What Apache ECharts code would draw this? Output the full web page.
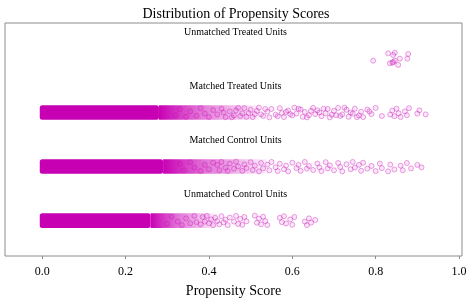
<!DOCTYPE html>
<html><head><meta charset="utf-8">
<script src="https://cdn.jsdelivr.net/npm/echarts@6/dist/echarts.min.js"></script>
<style>html,body{margin:0;padding:0;background:#fff}#c{width:472px;height:303px}</style>
</head><body><div id="c"></div>
<script>
const rows = ['Unmatched Treated Units','Matched Treated Units','Matched Control Units','Unmatched Control Units'];
const xTicks = [0, 0.2, 0.4, 0.6, 0.8, 1.0];
// dense part of each strip: [start, end of solid, end of thinning]
const bandStart = [null, 0.0, 0.0, 0.0];
const solidEnd  = [null, 0.28, 0.29, 0.26];
const fadeEnd   = [null, 0.52, 0.54, 0.42];
// sparse points: [score, vertical jitter]
const unmatchedTreated = [[0.830,-0.096],[0.846,-0.107],[0.842,-0.065],[0.878,-0.083],[0.876,0.004],[0.858,0.004],[0.794,0.041],[0.834,0.089],[0.842,0.065],[0.846,0.041],[0.854,0.120],[0.840,0.078]];
const matchedTreated = [[0.32,0.05],[0.33,-0.06],[0.345,0.08],[0.355,-0.02],[0.37,0.06],[0.38,-0.08],[0.39,0.02],[0.40,0.085],[0.41,-0.045],[0.42,0.035],[0.43,-0.07],[0.435,0],[0.44,0.085],[0.45,-0.02],[0.455,0.09],[0.46,0.055],[0.465,-0.04],[0.47,-0.085],[0.475,0.065],[0.48,0.015],[0.485,-0.08],[0.49,0.08],[0.495,0.01],[0.50,-0.05],[0.505,0.085],[0.51,0.03],[0.515,-0.03],[0.52,-0.09],[0.525,0.035],[0.53,0.065],[0.535,-0.065],[0.54,-0.015],[0.545,0.09],[0.55,-0.065],[0.56,0.04],[0.565,0.07],[0.57,-0.08],[0.575,0.01],[0.58,0.085],[0.585,-0.01],[0.59,-0.035],[0.595,0.03],[0.60,0.055],[0.605,-0.09],[0.61,0.02],[0.615,-0.07],[0.62,-0.055],[0.625,0.08],[0.63,-0.01],[0.635,0.09],[0.64,0.05],[0.645,-0.03],[0.65,-0.085],[0.655,0.03],[0.66,-0.04],[0.665,0],[0.67,0.07],[0.675,-0.07],[0.68,0.015],[0.685,-0.065],[0.69,0.09],[0.695,0.04],[0.70,-0.03],[0.705,0.05],[0.71,-0.085],[0.715,0.065],[0.72,0.035],[0.725,-0.09],[0.73,-0.05],[0.735,0.08],[0.74,0],[0.745,0.02],[0.75,-0.07],[0.755,0.085],[0.76,0.055],[0.765,-0.015],[0.77,0.085],[0.78,-0.055],[0.785,-0.02],[0.79,0.03],[0.80,-0.085],[0.815,0.065],[0.835,0.04],[0.84,-0.035],[0.845,0.07],[0.85,-0.07],[0.855,0.015],[0.86,0.085],[0.87,-0.02],[0.875,0.05],[0.88,-0.08],[0.90,0.02],[0.905,-0.04],[0.92,0.035]];
const matchedControl = [[0.33,-0.05],[0.34,0.07],[0.355,-0.08],[0.365,0.02],[0.38,0.085],[0.39,-0.03],[0.40,0.05],[0.41,-0.07],[0.42,-0.03],[0.425,0.07],[0.43,-0.085],[0.44,0.02],[0.445,0.085],[0.45,-0.055],[0.46,0.04],[0.465,-0.09],[0.47,0],[0.48,0.08],[0.485,-0.04],[0.49,0.03],[0.50,-0.08],[0.505,0.065],[0.51,-0.015],[0.52,0.09],[0.525,-0.065],[0.53,0.035],[0.54,-0.035],[0.545,0.07],[0.55,-0.085],[0.56,0.015],[0.565,0.085],[0.57,-0.05],[0.58,0.05],[0.585,-0.015],[0.59,0.09],[0.60,-0.07],[0.61,0.03],[0.615,-0.03],[0.62,0.08],[0.63,-0.085],[0.635,0.04],[0.64,-0.01],[0.65,0.065],[0.66,-0.055],[0.665,0.015],[0.67,0.085],[0.68,-0.08],[0.685,0.035],[0.69,-0.02],[0.70,0.07],[0.71,-0.065],[0.715,0.01],[0.72,0.09],[0.73,-0.04],[0.74,0.05],[0.745,-0.085],[0.75,0.02],[0.76,-0.03],[0.765,0.08],[0.77,-0.07],[0.78,0.04],[0.79,-0.01],[0.80,0.085],[0.81,-0.055],[0.815,0.03],[0.83,0.09],[0.835,-0.035],[0.845,0.055],[0.86,-0.015],[0.865,0.07],[0.875,-0.065],[0.885,0.035],[0.90,-0.03],[0.91,0.015]];
const unmatchedControl = [[0.30,0.06],[0.31,-0.07],[0.325,0.02],[0.335,0.085],[0.345,-0.04],[0.355,0.05],[0.365,-0.085],[0.37,0.03],[0.38,0.07],[0.385,-0.065],[0.39,0.02],[0.395,-0.085],[0.40,0.05],[0.405,-0.02],[0.41,0.085],[0.415,-0.05],[0.42,0.01],[0.425,0.07],[0.43,-0.08],[0.435,0.035],[0.44,-0.015],[0.445,0.085],[0.45,-0.055],[0.46,0.02],[0.465,-0.085],[0.47,0.065],[0.475,-0.03],[0.48,0.08],[0.485,-0.065],[0.49,0.015],[0.51,-0.09],[0.515,0.04],[0.52,-0.035],[0.525,0.07],[0.53,-0.07],[0.535,0.01],[0.54,0.085],[0.57,-0.05],[0.575,0.03],[0.58,-0.08],[0.585,0.055],[0.595,-0.02],[0.60,0.08],[0.605,-0.065],[0.63,0.02],[0.635,0.085],[0.64,-0.04],[0.645,0.04],[0.655,-0.01]];
const pointSets = [unmatchedTreated, matchedTreated, matchedControl, unmatchedControl];

const FONT = '"Liberation Serif", "DejaVu Serif", serif';
const MAG = 'rgb(200,0,180)';
const JIT = 0.09, R = 2.5;

const chart = echarts.init(document.getElementById('c'), null, {renderer: 'canvas'});
const scatterData = [];
pointSets.forEach((pts, i) => pts.forEach(p => scatterData.push([p[0], i + p[1]])));

chart.setOption({
  animation: false,
  title: {text: 'Distribution of Propensity Scores', left: 'center', top: 2,
    textStyle: {fontFamily: FONT, fontSize: 14, fontWeight: 'normal', color: '#000'}},
  grid: {left: 5, right: 10, top: 23, bottom: 47, show: true, borderColor: '#8c8c8c', borderWidth: 1, backgroundColor: 'transparent'},
  xAxis: {type: 'value', min: -0.0894, max: 1.0072, position: 'bottom',
    name: 'Propensity Score', nameLocation: 'middle', nameGap: 28,
    nameTextStyle: {fontFamily: FONT, fontSize: 14, color: '#000'},
    axisLine: {show: false, onZero: false}, splitLine: {show: false},
    axisTick: {show: true, length: 3, lineStyle: {color: '#8c8c8c'}, customValues: xTicks},
    axisLabel: {fontFamily: FONT, fontSize: 12, color: '#000', margin: 10, customValues: xTicks,
      formatter: v => v.toFixed(1)}},
  yAxis: {type: 'value', inverse: true, min: -0.657, max: 3.657, show: false},
  series: [
    {type: 'custom', data: rows.map((r, i) => [i]), z: 1,
      renderItem: (params, api) => {
        const i = api.value(0);
        const cs = params.coordSys;
        const children = [];
        const lab = api.coord([0, i - 0.48]);
        children.push({type: 'text', style: {text: rows[i], x: cs.x + cs.width / 2 + 2, y: lab[1],
          align: 'center', verticalAlign: 'middle', font: '10px ' + FONT, fill: '#000'}});
        if (bandStart[i] !== null) {
          const a = api.coord([bandStart[i], i - JIT]);
          const b = api.coord([solidEnd[i], i + JIT]);
          const c = api.coord([fadeEnd[i], i + JIT]);
          children.push({type: 'rect', shape: {x: a[0] - R, y: a[1] - R, width: b[0] - a[0] + R, height: b[1] - a[1] + 2 * R, r: R},
            style: {fill: MAG}});
          children.push({type: 'rect', shape: {x: b[0], y: a[1] - R, width: c[0] - b[0], height: b[1] - a[1] + 2 * R},
            style: {fill: new echarts.graphic.LinearGradient(0, 0, 1, 0, [
              {offset: 0, color: 'rgba(200,0,180,1)'},
              {offset: 0.4, color: 'rgba(200,0,180,0.55)'},
              {offset: 1, color: 'rgba(200,0,180,0.05)'}])}});
        }
        return {type: 'group', children};
      }},
    {type: 'scatter', data: scatterData, symbol: 'circle', symbolSize: 5, z: 2,
      itemStyle: {color: 'rgba(200,0,180,0.12)', borderColor: 'rgba(200,0,180,0.45)', borderWidth: 1}}
  ]
});
</script></body></html>
